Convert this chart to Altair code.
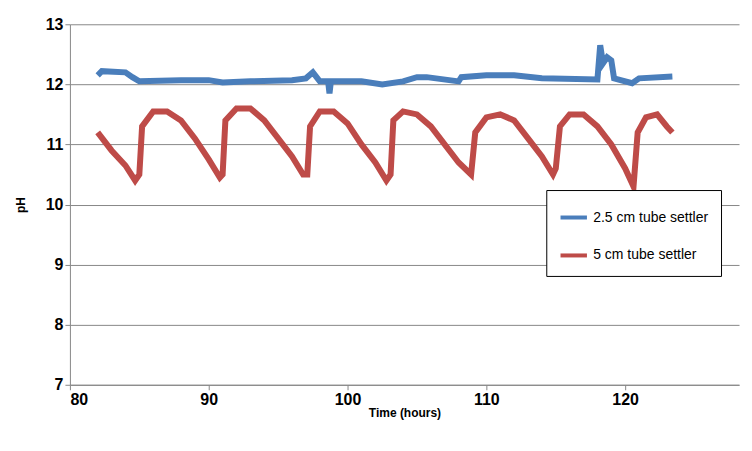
import altair as alt
import pandas as pd

blue_t = [82, 82.3, 84, 84.5, 85, 88, 90, 91, 93, 96, 97, 97.5, 98, 98.6, 98.7, 98.8,
          101, 102.5, 104, 105, 105.7, 108, 108.2, 110, 112, 114, 118, 118.2, 118.4,
          118.7, 119, 119.2, 120.5, 121, 123.4]
blue_ph = [12.15, 12.22, 12.2, 12.12, 12.05, 12.07, 12.07, 12.03, 12.05, 12.07, 12.1,
           12.2, 12.05, 12.05, 11.85, 12.05, 12.05, 12.0, 12.05, 12.12, 12.12, 12.05,
           12.12, 12.15, 12.15, 12.1, 12.08, 12.65, 12.35, 12.45, 12.4, 12.1, 12.02,
           12.1, 12.13]

red_t = [82, 83, 84, 84.7, 85, 85.2, 86, 87, 88, 89, 90, 90.8, 91, 91.2, 92, 93, 94,
         95, 96, 96.8, 97.1, 97.3, 98, 99, 100, 101, 102, 102.8, 103.1, 103.3, 104,
         105, 106, 108, 108.9, 109.2, 110, 111, 112, 113, 114, 114.8, 115, 115.3, 116,
         117, 118, 119, 120, 120.6, 120.9, 121.5, 122.3, 123, 123.4]
red_ph = [11.2, 10.9, 10.65, 10.4, 10.5, 11.3, 11.55, 11.55, 11.4, 11.1, 10.75, 10.45,
          10.5, 11.4, 11.6, 11.6, 11.4, 11.1, 10.8, 10.5, 10.5, 11.3, 11.55, 11.55,
          11.35, 11.0, 10.7, 10.4, 10.5, 11.4, 11.55, 11.5, 11.3, 10.7, 10.5, 11.2,
          11.45, 11.5, 11.4, 11.1, 10.8, 10.5, 10.6, 11.3, 11.5, 11.5, 11.3, 11.0,
          10.6, 10.3, 11.2, 11.45, 11.5, 11.3, 11.2]

df = pd.concat([
    pd.DataFrame({"t": blue_t, "ph": blue_ph, "series": "2.5 cm tube settler"}),
    pd.DataFrame({"t": red_t, "ph": red_ph, "series": "5 cm tube settler"}),
])

font = "Liberation Sans"
chart = (
    alt.Chart(df)
    .mark_line(strokeWidth=6)
    .encode(
        x=alt.X("t:Q", title="Time (hours)",
                scale=alt.Scale(domain=[80, 128.2], nice=False),
                axis=alt.Axis(values=[80, 90, 100, 110, 120], grid=False, tickSize=5,
                              labelFontSize=16, labelFontWeight="bold", titleFontSize=12,
                              titlePadding=0, labelColor="black", titleColor="black",
                              domainColor="#888", tickColor="#888")),
        y=alt.Y("ph:Q", title="pH",
                scale=alt.Scale(domain=[7, 13], nice=False),
                axis=alt.Axis(values=[7, 8, 9, 10, 11, 12, 13], tickSize=5,
                              labelFontSize=16, labelFontWeight="bold", titleFontSize=12,
                              labelColor="black", titleColor="black", gridColor="#888",
                              domainColor="#888", tickColor="#888", titlePadding=18)),
        color=alt.Color("series:N", title=None,
                        scale=alt.Scale(domain=["2.5 cm tube settler", "5 cm tube settler"],
                                        range=["#4a7ebb", "#be4b48"]),
                        legend=alt.Legend(orient="none", legendX=477, legendY=166,
                                          symbolType="stroke", symbolStrokeWidth=4,
                                          symbolSize=700, labelFontSize=14,
                                          labelColor="black", fillColor="white",
                                          strokeColor="black", padding=12, rowPadding=14)),
        detail="series:N",
    )
    .properties(width=670, height=361, autosize=alt.AutoSizeParams(type="none"),
                padding={"left": 62, "top": 16, "right": 5, "bottom": 55})
    .configure(font=font)
    .configure_view(stroke=None)
)

chart.save("out.html", embed_options={"renderer": "svg", "actions": False})
